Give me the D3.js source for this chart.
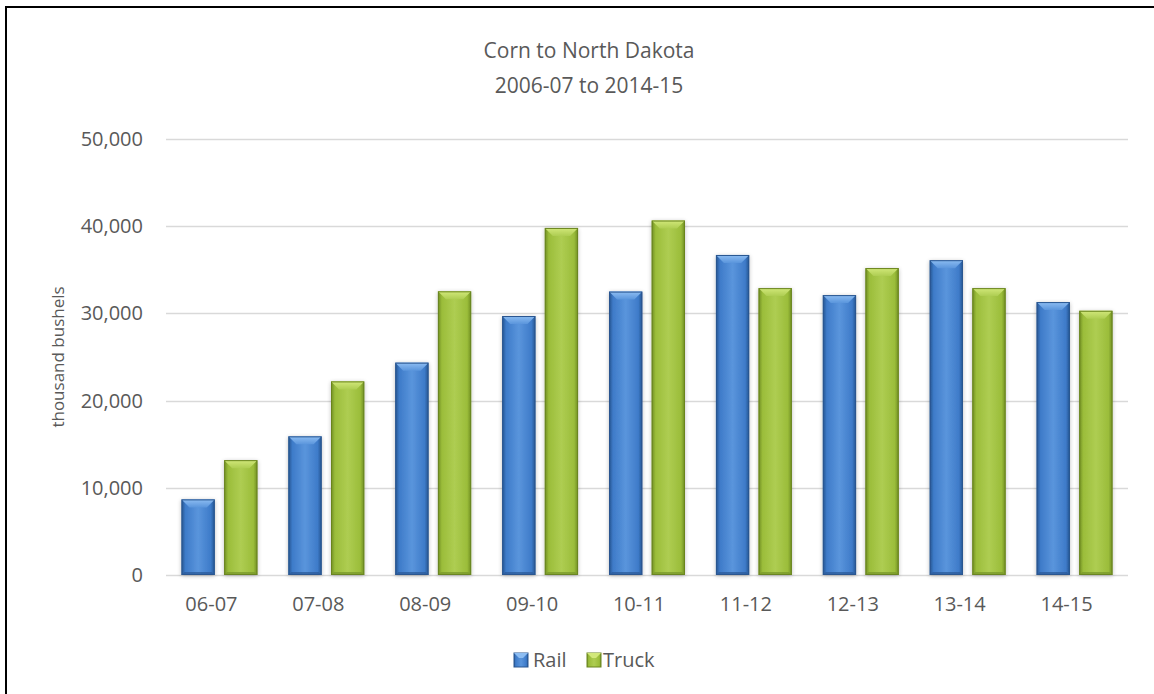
<!DOCTYPE html>
<html><head><meta charset="utf-8">
<script src="https://cdn.jsdelivr.net/npm/d3@7"></script>
<style>body{margin:0;background:#fff}svg{display:block}</style>
</head><body>
<script>
const categories = ["06-07","07-08","08-09","09-10","10-11","11-12","12-13","13-14","14-15"];
const rail  = [8670, 15900, 24350, 29700, 32500, 36700, 32100, 36100, 31300];
const truck = [13170, 22200, 32530, 39800, 40650, 32900, 35200, 32900, 30300];
const seriesNames = ["Rail","Truck"];
const yTicks = [0,10000,20000,30000,40000,50000];

const W=1154,H=694;
const svg=d3.select("body").append("svg").attr("width",W).attr("height",H);
const font="'Open Sans', 'Liberation Sans', sans-serif";

svg.append("rect").attr("x",6).attr("y",7).attr("width",W+20).attr("height",H+20)
  .attr("fill","#fff").attr("stroke","#000").attr("stroke-width",2);

const y=d3.scaleLinear().domain([0,50000]).range([575,139]);
const x0=d3.scaleBand().domain(categories).range([166,1128]).paddingInner(0.29).paddingOuter(0.145);
const x1=d3.scaleBand().domain(seriesNames).range([0,x0.bandwidth()]).paddingInner(0.22);

const defs=svg.append("defs");
const pal={Rail:{dark:"#24548f",mid:"#3e7bc9",light:"#5a95dc",top:"#8dbdf2",bot:"#2c5d9c",stroke:"#2a5690"},
           Truck:{dark:"#6f8d22",mid:"#9bbd3a",light:"#aecd52",top:"#d2e87a",bot:"#7b9a2a",stroke:"#6a8520"}};
seriesNames.forEach(s=>{
  const g=defs.append("linearGradient").attr("id","g"+s).attr("x1","0").attr("x2","1").attr("y1","0").attr("y2","0");
  const p=pal[s];
  [[0,p.dark],[0.12,p.mid],[0.5,p.light],[0.88,p.mid],[1,p.dark]].forEach(([o,c])=>g.append("stop").attr("offset",o).attr("stop-color",c));
  const t=defs.append("linearGradient").attr("id","t"+s).attr("x1","0").attr("x2","0").attr("y1","0").attr("y2","1");
  [[0,p.top],[1,p.light]].forEach(([o,c])=>t.append("stop").attr("offset",o).attr("stop-color",c));
});
const f=defs.append("filter").attr("id","sh").attr("x","-20%").attr("y","-10%").attr("width","140%").attr("height","120%");
f.append("feGaussianBlur").attr("in","SourceAlpha").attr("stdDeviation",2.2).attr("result","b");
f.append("feOffset").attr("in","b").attr("dx",0).attr("dy",1).attr("result","o");
f.append("feComponentTransfer").attr("in","o").attr("result","oa").append("feFuncA").attr("type","linear").attr("slope",0.25);
const m=f.append("feMerge");m.append("feMergeNode").attr("in","oa");m.append("feMergeNode").attr("in","SourceGraphic");

// gridlines
svg.append("g").selectAll("line").data(yTicks).join("line")
  .attr("x1",166).attr("x2",1128).attr("y1",d=>Math.round(y(d))+0.5).attr("y2",d=>Math.round(y(d))+0.5)
  .attr("stroke","#d9d9d9").attr("stroke-width",1.5);

// y labels
svg.append("g").selectAll("text").data(yTicks).join("text")
  .attr("x",143).attr("y",d=>y(d)).attr("dy","0.35em").attr("text-anchor","end")
  .attr("font-family",font).attr("font-size",20).attr("fill","#595959")
  .text(d=>d3.format(",")(d));

// x labels
svg.append("g").selectAll("text").data(categories).join("text")
  .attr("x",d=>x0(d)+x0.bandwidth()/2-8).attr("y",604).attr("dy","0.35em").attr("text-anchor","middle")
  .attr("font-family",font).attr("font-size",20).attr("fill","#595959").text(d=>d);

// axis title
svg.append("text").attr("transform","translate(64,357) rotate(-90)").attr("text-anchor","middle")
  .attr("font-family",font).attr("font-size",17).attr("fill","#595959").text("thousand bushels");

// title
svg.append("text").attr("x",589).attr("y",58).attr("text-anchor","middle")
  .attr("font-family",font).attr("font-size",21).attr("fill","#595959").text("Corn to North Dakota");
svg.append("text").attr("x",589).attr("y",93).attr("text-anchor","middle")
  .attr("font-family",font).attr("font-size",21).attr("fill","#595959").text("2006-07 to 2014-15");

// bars
const data=[];
categories.forEach((c,i)=>{data.push({c,s:"Rail",v:rail[i]});data.push({c,s:"Truck",v:truck[i]});});
const bars=svg.append("g").selectAll("g").data(data).join("g").attr("filter","url(#sh)");
bars.each(function(d){
  const g=d3.select(this);
  const bx=x0(d.c)+x1(d.s), bw=x1.bandwidth(), by=y(d.v), bh=y(0)-y(d.v), p=pal[d.s];
  const b=8, sb=3;
  g.append("rect").attr("x",bx).attr("y",by).attr("width",bw).attr("height",bh).attr("fill",`url(#g${d.s})`);
  g.append("polygon").attr("points",[[bx,by],[bx+bw,by],[bx+bw-b,by+b],[bx+b,by+b]].map(p=>p.join(",")).join(" "))
    .attr("fill",`url(#t${d.s})`);
  g.append("polygon").attr("points",[[bx,by+bh],[bx+bw,by+bh],[bx+bw-sb,by+bh-sb],[bx+sb,by+bh-sb]].map(p=>p.join(",")).join(" "))
    .attr("fill",p.bot).attr("opacity",0.8);
  g.append("rect").attr("x",bx+0.5).attr("y",by+0.5).attr("width",bw-1).attr("height",bh-1)
    .attr("fill","none").attr("stroke",p.stroke).attr("stroke-width",1);
});

// legend
const leg=[{s:"Rail",x:514,tx:533},{s:"Truck",x:587,tx:603}];
const lg=svg.append("g").selectAll("g").data(leg).join("g");
lg.append("rect").attr("x",d=>d.x).attr("y",653).attr("width",14).attr("height",14)
  .attr("fill",d=>`url(#g${d.s})`).attr("stroke",d=>pal[d.s].stroke);
lg.append("polygon").attr("points",d=>[[d.x,653],[d.x+14,653],[d.x+9,658],[d.x+5,658]].map(p=>p.join(",")).join(" "))
  .attr("fill",d=>pal[d.s].top);
lg.append("text").attr("x",d=>d.tx).attr("y",660).attr("dy","0.35em")
  .attr("font-family",font).attr("font-size",20).attr("fill","#595959").text(d=>d.s);
</script>
</body></html>
